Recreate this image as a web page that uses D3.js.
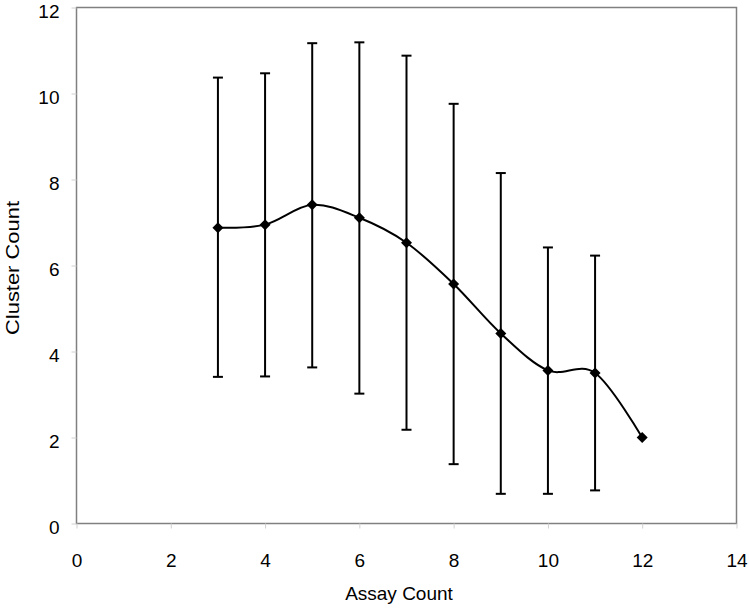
<!DOCTYPE html>
<html>
<head>
<meta charset="utf-8">
<script src="https://cdn.jsdelivr.net/npm/d3@7"></script>
<style>
  html, body { margin: 0; padding: 0; background: #fff; }
  svg { display: block; font-family: "Liberation Sans", Arial, sans-serif; }
</style>
</head>
<body>
<svg id="chart" width="749" height="610"></svg>
<script>
// Data
const assayCount   = [3, 4, 5, 6, 7, 8, 9, 10, 11, 12];
const clusterMean  = [6.88, 6.95, 7.41, 7.11, 6.53, 5.57, 4.42, 3.56, 3.50, 2.0];
const errorUpper   = [10.37, 10.47, 11.17, 11.19, 10.88, 9.76, 8.15, 6.42, 6.23, null];
const errorLower   = [3.41, 3.42, 3.63, 3.02, 2.18, 1.38, 0.69, 0.69, 0.77, null];
const xTicks = [0, 2, 4, 6, 8, 10, 12, 14];
const yTicks = [0, 2, 4, 6, 8, 10, 12];
const xTitle = "Assay Count";
const yTitle = "Cluster Count";

(function () {
const svg = d3.select("#chart");
const pLeft = 76.5, pRight = 736.5, pTop = 7.5, pBottom = 523.5;
const fs = 19;

const x = d3.scaleLinear().domain([0, 14]).range([pLeft, pRight]);
const y = d3.scaleLinear().domain([0, 12]).range([pBottom, pTop]);

// Plot frame
svg.append("rect")
  .attr("x", pLeft).attr("y", pTop)
  .attr("width", pRight - pLeft).attr("height", pBottom - pTop)
  .attr("fill", "none").attr("stroke", "#808080").attr("stroke-width", 1.5);

// Axes
const xAxis = svg.append("g").attr("transform", `translate(0,${pBottom})`)
  .call(d3.axisBottom(x).tickValues(xTicks).tickSize(5).tickPadding(25).tickFormat(d3.format("d")));
const yAxis = svg.append("g").attr("transform", `translate(${pLeft},0)`)
  .call(d3.axisLeft(y).tickValues(yTicks).tickSize(5).tickPadding(12).tickFormat(d3.format("d")));
[xAxis, yAxis].forEach(g => {
  g.select(".domain").remove();
  g.selectAll(".tick line").attr("stroke", "#d0d0d0");
  g.selectAll(".tick text").attr("fill", "#000").attr("font-size", fs)
    .attr("font-family", "Liberation Sans, Arial, sans-serif");
});
yAxis.selectAll(".tick text").attr("transform", "translate(0,4)");

// Axis titles
svg.append("text").attr("x", 399).attr("y", 600)
  .attr("text-anchor", "middle").attr("font-size", fs).text(xTitle);
svg.append("text")
  .attr("transform", `translate(19,268) rotate(-90)`)
  .attr("text-anchor", "middle").attr("font-size", fs)
  .attr("textLength", 134).attr("lengthAdjust", "spacingAndGlyphs")
  .text(yTitle);

const data = assayCount.map((a, i) => ({ a, m: clusterMean[i], hi: errorUpper[i], lo: errorLower[i] }));

// Error bars
const eb = svg.append("g").attr("stroke", "#000").attr("stroke-width", 2);
data.filter(d => d.hi != null).forEach(d => {
  const cx = x(d.a);
  eb.append("line").attr("x1", cx).attr("x2", cx).attr("y1", y(d.hi)).attr("y2", y(d.lo));
  eb.append("line").attr("x1", cx - 5).attr("x2", cx + 5).attr("y1", y(d.hi)).attr("y2", y(d.hi));
  eb.append("line").attr("x1", cx - 5).attr("x2", cx + 5).attr("y1", y(d.lo)).attr("y2", y(d.lo));
});

// Smoothed line
const line = d3.line().x(d => x(d.a)).y(d => y(d.m)).curve(d3.curveCardinal.tension(0));
svg.append("path").datum(data).attr("d", line)
  .attr("fill", "none").attr("stroke", "#000").attr("stroke-width", 2);

// Diamond markers
svg.append("g").selectAll("path").data(data).join("path")
  .attr("transform", d => `translate(${x(d.a)},${y(d.m)})`)
  .attr("d", "M0,-5.5L5.5,0L0,5.5L-5.5,0Z")
  .attr("fill", "#000");
})();
</script>
</body>
</html>
